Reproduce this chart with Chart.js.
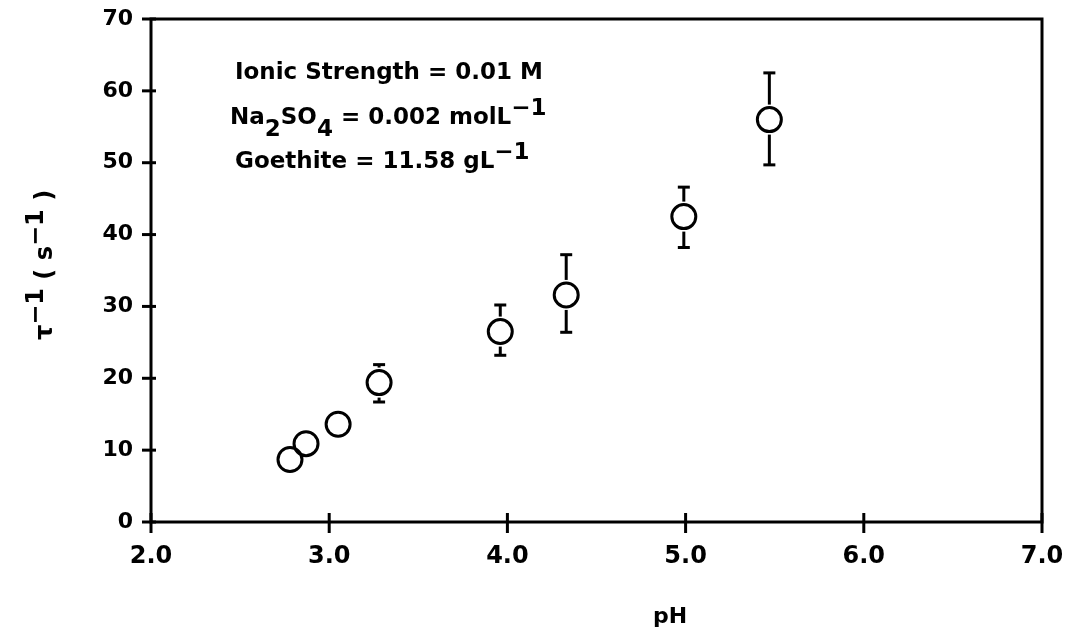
<!DOCTYPE html>
<html><head><meta charset="utf-8">
<script src="https://cdn.jsdelivr.net/npm/chart.js@4"></script>
<style>html,body{margin:0;padding:0;background:#fff}</style>
</head><body>
<canvas id="c" width="1069" height="643"></canvas>
<script>
const pH = [2.78, 2.87, 3.05, 3.28, 3.96, 4.33, 4.99, 5.47];
const rate = [8.7, 10.9, 13.6, 19.4, 26.5, 31.6, 42.5, 56.0];
const errHigh = [null, null, null, 21.9, 30.2, 37.2, 46.6, 62.5];
const errLow = [null, null, null, 16.7, 23.2, 26.4, 38.2, 49.7];
const xTicks = [2, 3, 4, 5, 6, 7];
const yTicks = [0, 10, 20, 30, 40, 50, 60, 70];
const xTitle = 'pH';
// runs: [text, shift] shift 0 normal, 1 subscript, -1 superscript
const annotationLines = [
  [['Ionic Strength = 0.01 M', 0]],
  [['Na', 0], ['2', 1], ['SO', 0], ['4', 1], [' = 0.002 molL', 0], ['\u22121', -1]],
  [['Goethite = 11.58 gL', 0], ['\u22121', -1]]
];
const yTitleRuns = [['\u03c4', 0], ['\u22121', -1], [' ( s', 0], ['\u22121', -1], [' )', 0]];

const FONT = '"DejaVu Sans", "Liberation Sans", sans-serif';

function drawRuns(ctx, runs, x, y, size) {
  ctx.font = 'bold ' + size + 'px ' + FONT;
  let cx = x;
  for (const [t, s] of runs) {
    const dy = s === 1 ? 12 : (s === -1 ? -9 : 0);
    ctx.fillText(t, cx, y + dy);
    cx += ctx.measureText(t).width;
  }
  return cx - x;
}
function runsWidth(ctx, runs, size) {
  ctx.font = 'bold ' + size + 'px ' + FONT;
  let w = 0;
  for (const [t] of runs) w += ctx.measureText(t).width;
  return w;
}
function zeroPad(s) { s.paddingTop = 0; s.paddingBottom = 0; s.paddingLeft = 0; s.paddingRight = 0; }

const decor = {
  id: 'decor',
  afterDraw(chart) {
    const ctx = chart.ctx;
    const a = chart.chartArea;
    const xs = chart.scales.x, ys = chart.scales.y;
    ctx.save();
    ctx.strokeStyle = '#000';
    ctx.fillStyle = '#000';
    ctx.lineWidth = 3;
    ctx.lineCap = 'butt';
    ctx.strokeRect(a.left, a.top, a.right - a.left, a.bottom - a.top);
    for (const v of xTicks) {
      const px = xs.getPixelForValue(v);
      ctx.beginPath(); ctx.moveTo(px, a.bottom - 9); ctx.lineTo(px, a.bottom + 11); ctx.stroke();
    }
    for (const v of yTicks) {
      const py = ys.getPixelForValue(v);
      ctx.beginPath(); ctx.moveTo(a.left - 9, py); ctx.lineTo(a.left + 5, py); ctx.stroke();
    }
    const r = 12, gap = 3, cap = 6;
    for (let i = 0; i < pH.length; i++) {
      const px = xs.getPixelForValue(pH[i]);
      const py = ys.getPixelForValue(rate[i]);
      if (errHigh[i] != null) {
        const t = ys.getPixelForValue(errHigh[i]);
        if (t < py - r - gap) { ctx.beginPath(); ctx.moveTo(px, py - r - gap); ctx.lineTo(px, t); ctx.stroke(); }
        ctx.beginPath(); ctx.moveTo(px - cap, t); ctx.lineTo(px + cap, t); ctx.stroke();
      }
      if (errLow[i] != null) {
        const b = ys.getPixelForValue(errLow[i]);
        if (b > py + r + gap) { ctx.beginPath(); ctx.moveTo(px, py + r + gap); ctx.lineTo(px, b); ctx.stroke(); }
        ctx.beginPath(); ctx.moveTo(px - cap, b); ctx.lineTo(px + cap, b); ctx.stroke();
      }
    }
    ctx.textBaseline = 'alphabetic';
    ctx.textAlign = 'left';
    const starts = [[235, 79], [230, 124], [235, 168]];
    annotationLines.forEach((runs, i) => drawRuns(ctx, runs, starts[i][0], starts[i][1], 23));
    ctx.font = 'bold 22px ' + FONT;
    ctx.textAlign = 'center';
    ctx.textBaseline = 'middle';
    ctx.fillText(xTitle, 670, 617);
    ctx.save();
    ctx.translate(52, 265);
    ctx.rotate(-Math.PI / 2);
    ctx.textAlign = 'left';
    ctx.textBaseline = 'alphabetic';
    const w = runsWidth(ctx, yTitleRuns, 24);
    drawRuns(ctx, yTitleRuns, -w / 2, 0, 24);
    ctx.restore();
    ctx.restore();
  }
};

new Chart(document.getElementById('c'), {
  type: 'scatter',
  data: {
    datasets: [{
      data: pH.map((x, i) => ({ x: x, y: rate[i] })),
      pointRadius: 12,
      pointHoverRadius: 12,
      pointBorderWidth: 3,
      borderColor: '#000',
      pointBorderColor: '#000',
      backgroundColor: 'rgba(0,0,0,0)',
      pointBackgroundColor: 'rgba(0,0,0,0)',
      showLine: false
    }]
  },
  options: {
    responsive: false,
    animation: false,
    events: [],
    layout: { padding: { top: 19, right: 27, left: 0, bottom: 0 } },
    plugins: { legend: { display: false }, tooltip: { enabled: false } },
    scales: {
      x: {
        type: 'linear', min: 2, max: 7,
        afterBuildTicks: s => { s.ticks = xTicks.map(v => ({ value: v })); },
        afterFit: s => { s.height = 121; zeroPad(s); },
        grid: { display: false, drawTicks: false },
        border: { display: false },
        ticks: {
          autoSkip: false, maxRotation: 0, padding: 20, color: '#000',
          font: { family: FONT, size: 24, weight: 'bold' },
          callback: v => Number(v).toFixed(1)
        }
      },
      y: {
        type: 'linear', min: 0, max: 70,
        afterBuildTicks: s => { s.ticks = yTicks.map(v => ({ value: v })); },
        afterFit: s => { s.width = 151; zeroPad(s); },
        grid: { display: false, drawTicks: false },
        border: { display: false },
        ticks: {
          autoSkip: false, padding: 18, color: '#000',
          font: { family: FONT, size: 22, weight: 'bold' },
          callback: v => String(v)
        }
      }
    }
  },
  plugins: [decor]
});
</script>
</body></html>
